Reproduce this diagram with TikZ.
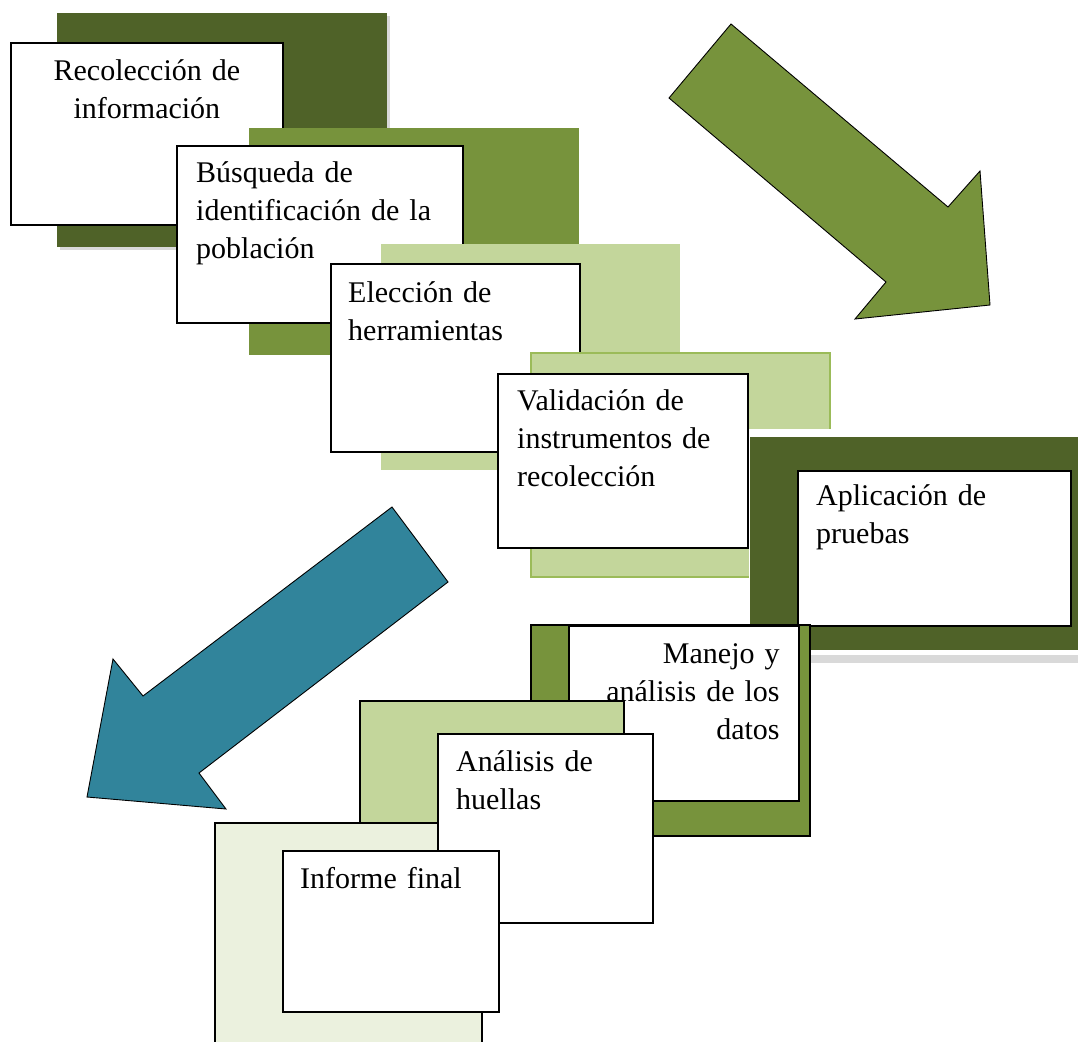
\documentclass[tikz,border=0pt]{standalone}
\usepackage{fontspec}
\setmainfont{Liberation Serif}[WordSpace={0.6,0.6,0.6}]
\definecolor{olivedark}{HTML}{4F6228}
\definecolor{olivemid}{HTML}{77933C}
\definecolor{olivelight}{HTML}{C3D69B}
\definecolor{olivepale}{HTML}{EBF1DE}
\definecolor{oliveedge}{HTML}{9BBB59}
\definecolor{tealarrow}{HTML}{31849B}
\begin{document}
\begin{tikzpicture}[x=1pt,y=-1pt,
    card/.style 2 args={draw=black,line width=1.8pt,fill=white,anchor=north west,
        inner sep=0pt,minimum width=#1pt,minimum height=#2pt},
    cardtext/.style={inner sep=0pt,text width=260pt,align=left,
        font=\fontsize{30}{38}\selectfont},
    backsheet/.style={draw=black,line width=1.8pt},
    bigarrow/.style={draw=black,line width=0.9pt,line join=miter}]
    \useasboundingbox (0,0) rectangle (1078,1041);
    % direction arrows
    \filldraw[bigarrow,fill=olivemid] (731,24) -- (948,207) -- (980,171) -- (990,305)
        -- (855,319) -- (886,282) -- (669,98) -- cycle;
    \filldraw[bigarrow,fill=tealarrow] (392,507) -- (448,582) -- (199,773) -- (226,809)
        -- (87,797) -- (113,659) -- (143,696) -- cycle;
    % first steps, going down to the right
    \fill[gray!30] (60,16) rectangle (390,250);
    \fill[olivedark] (57,13) rectangle (387,247);
    \node[card={272}{182}] (recol) at (10,42) {};
    \node[cardtext,align=center,anchor=base] (recol-t) at ([yshift=-38pt]recol.north)
        {Recolección de\\información};
    \fill[olivemid] (249,128) rectangle (579,355);
    \node[card={286}{177}] (busq) at (176,145) {};
    \node[cardtext,anchor=base west] (busq-t) at ([shift={(20pt,-37pt)}]busq.north west)
        {Búsqueda de\\identificación de la\\población};
    \fill[olivelight] (381,244) rectangle (680,470);
    \node[card={249}{188}] (elec) at (330,263) {};
    \node[cardtext,anchor=base west] (elec-t) at ([shift={(18pt,-39pt)}]elec.north west)
        {Elección de\\herramientas};
    \filldraw[fill=olivelight,draw=oliveedge,line width=1.2pt] (531,353) rectangle (830,577);
    \node[card={250}{174}] (valid) at (497,373) {};
    \node[cardtext,anchor=base west] (valid-t) at ([shift={(20pt,-37pt)}]valid.north west)
        {Validación de\\instrumentos de\\recolección};
    \fill[white] (749,429) rectangle (1078,668);
    \fill[gray!30] (752,655) rectangle (1078,663);
    \fill[olivedark] (750,437) rectangle (1078,650);
    \node[card={273}{155}] (aplic) at (797,470) {};
    \node[cardtext,anchor=base west] (aplic-t) at ([shift={(19pt,-35pt)}]aplic.north west)
        {Aplicación de\\pruebas};
    % last steps, going down to the left
    \filldraw[backsheet,fill=olivemid] (531,625) rectangle (810,836);
    \node[card={230}{175}] (manejo) at (568,625) {};
    \node[cardtext,align=right,anchor=base east] (manejo-t) at ([shift={(-20pt,-38pt)}]manejo.north east)
        {Manejo y\\análisis de los\\datos};
    \filldraw[backsheet,fill=olivelight] (360,701) rectangle (624,880);
    \filldraw[backsheet,fill=olivepale] (215,823) rectangle (482,1050);
    \node[card={215}{189}] (huellas) at (437,733) {};
    \node[cardtext,anchor=base west] (huellas-t) at ([shift={(19pt,-38pt)}]huellas.north west)
        {Análisis de\\huellas};
    \node[card={216}{161}] (informe) at (282,850) {};
    \node[cardtext,anchor=base west] (informe-t) at ([shift={(18pt,-38pt)}]informe.north west)
        {Informe final};
\end{tikzpicture}
\end{document}
